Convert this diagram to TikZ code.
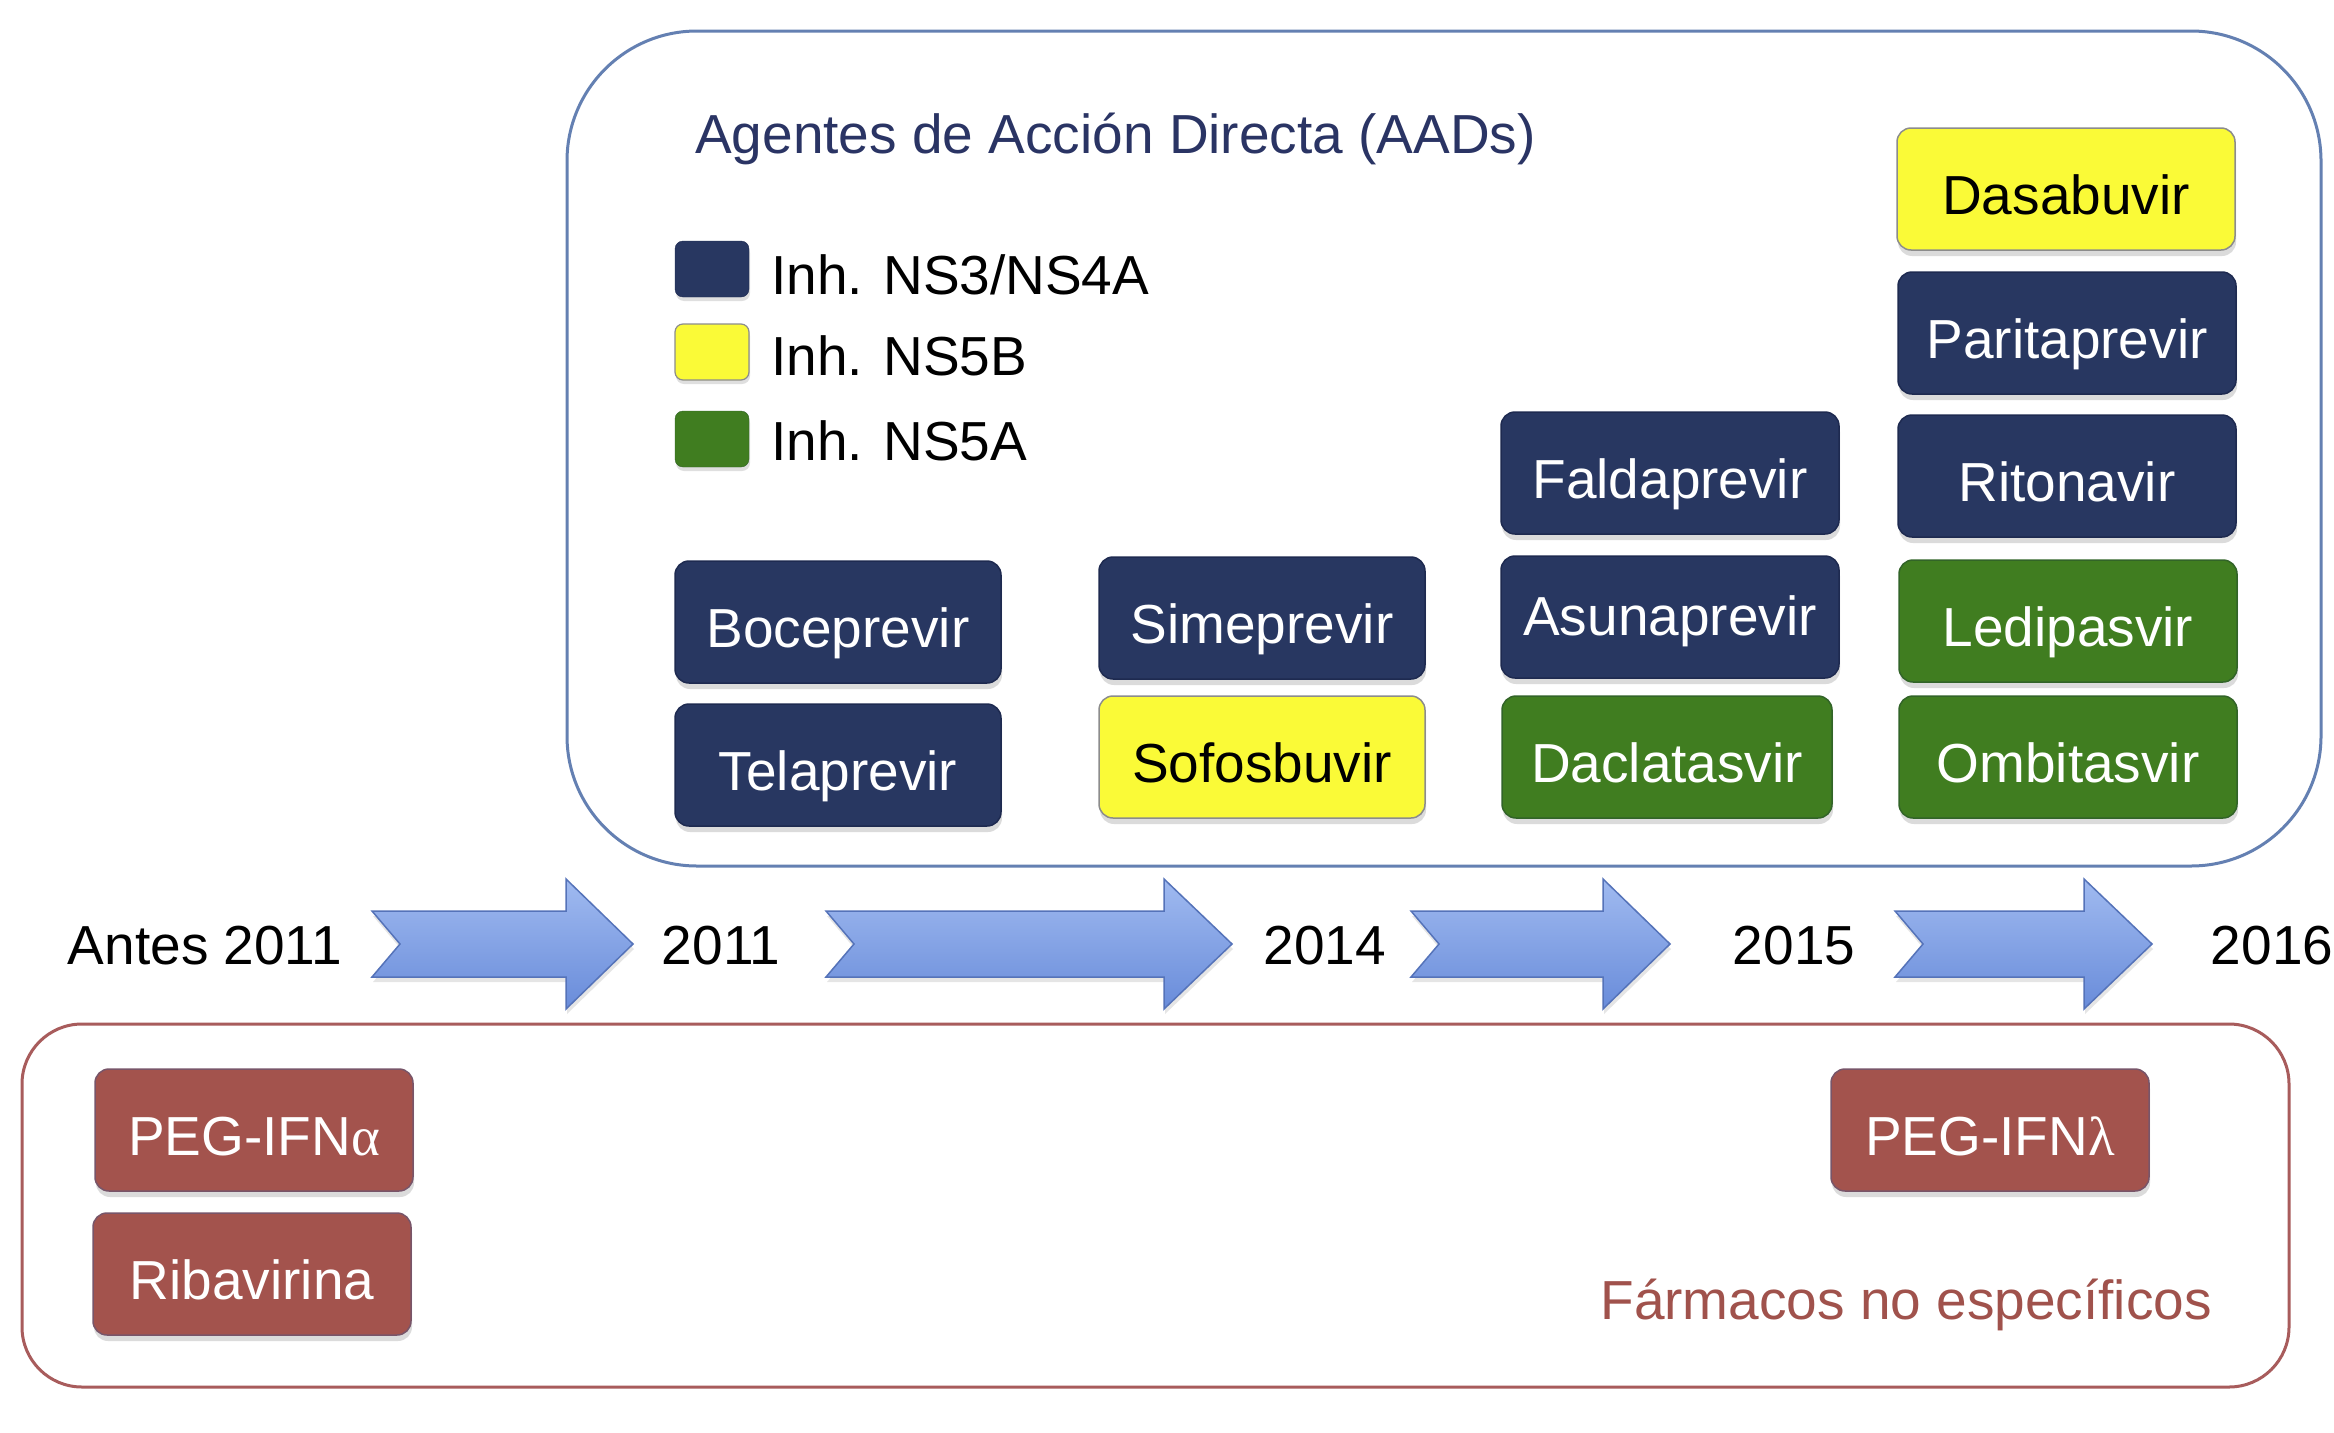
\documentclass[tikz,border=0pt]{standalone}
\usepackage{fontspec}
\setmainfont{Liberation Sans}
\newfontfamily\grserif{Liberation Serif}
\usetikzlibrary{shadows}
\definecolor{navy}{RGB}{40,55,97}
\definecolor{navyedge}{RGB}{30,42,80}
\definecolor{ylw}{RGB}{250,250,55}
\definecolor{grn}{RGB}{64,125,32}
\definecolor{grnedge}{RGB}{50,100,40}
\definecolor{rbox}{RGB}{163,83,77}
\definecolor{rboxedge}{RGB}{120,85,105}
\definecolor{frameblue}{RGB}{100,128,178}
\definecolor{framered}{RGB}{168,92,92}
\definecolor{titlenavy}{RGB}{42,52,100}
\definecolor{txtred}{RGB}{160,82,76}
\definecolor{arrtop}{RGB}{160,186,240}
\definecolor{arrbot}{RGB}{105,140,218}
\definecolor{arredge}{RGB}{85,115,185}
\tikzset{
  x=1pt, y=-1pt,
  every node/.style={font=\fontsize{55}{62}\selectfont},
  capc/.style={text height=39.5pt, text depth=0pt},
  drug/.style={rounded corners=14pt, minimum height=122pt, inner sep=0pt,
    text height=50pt, text depth=0pt,
    drop shadow={shadow xshift=1pt, shadow yshift=-6pt, opacity=0.28}},
  ns3/.style={drug, fill=navy, draw=navyedge, line width=1.5pt, text=white},
  ns5b/.style={drug, fill=ylw, draw=black!45, line width=1.5pt, text=black},
  ns5a/.style={drug, fill=grn, draw=grnedge, line width=1.5pt, text=white},
  nonspec/.style={drug, fill=rbox, draw=rboxedge, line width=1.5pt, text=white, minimum width=318pt},
  legsq/.style={rounded corners=8pt, minimum width=74pt, minimum height=56pt, inner sep=0pt,
    drop shadow={shadow xshift=1pt, shadow yshift=-4pt, opacity=0.25}},
  legtxt/.style={anchor=west, inner sep=0pt, capc},
  yr/.style={inner sep=0pt, capc},
  blockarrow/.style={draw=arredge, line width=1.5pt, top color=arrtop, bottom color=arrbot,
    line join=miter, drop shadow={shadow xshift=1pt, shadow yshift=-5pt, opacity=0.2}},
  frameA/.style={draw=frameblue, line width=3pt, rounded corners=130pt},
  frameB/.style={draw=framered, line width=3pt, rounded corners=60pt}
}
\begin{document}
\begin{tikzpicture}
\useasboundingbox[fill=white] (0,0) rectangle (2334,1432);
% frames
\draw[frameA] (567,31) rectangle (2321,866);
\draw[frameB] (22,1024) rectangle (2289,1387);
% title
\node[anchor=west, inner sep=0pt, text=titlenavy, capc] (title) at (695,134) {Agentes de Acción Directa (AADs)};
% legend
\node[legsq, fill=navy, draw=navyedge] (l1) at (712,269) {};
\node[legsq, fill=ylw, draw=black!45, line width=1.2pt] (l2) at (712,352) {};
\node[legsq, fill=grn, draw=grnedge] (l3) at (712,439) {};
\node[legtxt] (t1) at (771,275) {Inh. NS3/NS4A};
\node[legtxt] (t2) at (771,356) {Inh. NS5B};
\node[legtxt] (t3) at (771,441) {Inh. NS5A};
% column 1
\node[ns3, minimum width=326pt] (boce) at (838,622) {Boceprevir};
\node[ns3, minimum width=326pt] (tela) at (838,765) {Telaprevir};
% column 2
\node[ns3, minimum width=326pt] (sime) at (1262,618) {Simeprevir};
\node[ns5b, minimum width=326pt] (sofo) at (1262,757) {Sofosbuvir};
% column 3
\node[ns3, minimum width=338pt] (fald) at (1670,473) {Faldaprevir};
\node[ns3, minimum width=338pt] (asun) at (1670,617) {\raisebox{7pt}{Asunaprevir}};
\node[ns5a, minimum width=330pt] (dacl) at (1667,757) {Daclatasvir};
% column 4
\node[ns5b, minimum width=338pt] (dasa) at (2066,189) {Dasabuvir};
\node[ns3, minimum width=338pt] (pari) at (2067,333) {Paritaprevir};
\node[ns3, minimum width=338pt] (rito) at (2067,476) {Ritonavir};
\node[ns5a, minimum width=338pt] (ledi) at (2068,621) {Ledipasvir};
\node[ns5a, minimum width=338pt] (ombi) at (2068,757) {Ombitasvir};
% timeline arrows
\draw[blockarrow] (372,911) -- (566,911) -- (566,879) -- (633,944) -- (566,1009) -- (566,977) -- (372,977) -- (400,944) -- cycle;
\draw[blockarrow] (826,911) -- (1164,911) -- (1164,879) -- (1232,944) -- (1164,1009) -- (1164,977) -- (826,977) -- (854,944) -- cycle;
\draw[blockarrow] (1411,911) -- (1603,911) -- (1603,879) -- (1670,944) -- (1603,1009) -- (1603,977) -- (1411,977) -- (1439,944) -- cycle;
\draw[blockarrow] (1895,911) -- (2084,911) -- (2084,879) -- (2152,944) -- (2084,1009) -- (2084,977) -- (1895,977) -- (1923,944) -- cycle;
% years
\node[yr] (y0) at (205,945) {Antes 2011};
\node[yr] (y1) at (721,945) {2011};
\node[yr] (y2) at (1325,945) {2014};
\node[yr] (y3) at (1794,945) {2015};
\node[yr] (y4) at (2272,945) {2016};
% non-specific drugs
\node[nonspec] (pega) at (254,1130) {PEG-IFN{\grserif α}};
\node[nonspec] (riba) at (252,1274) {Ribavirina};
\node[nonspec] (pegl) at (1990,1130) {PEG-IFN{\grserif λ}};
\node[anchor=east, inner sep=0pt, text=txtred, capc] (farm) at (2212,1300) {Fármacos no específicos};
\end{tikzpicture}
\end{document}
